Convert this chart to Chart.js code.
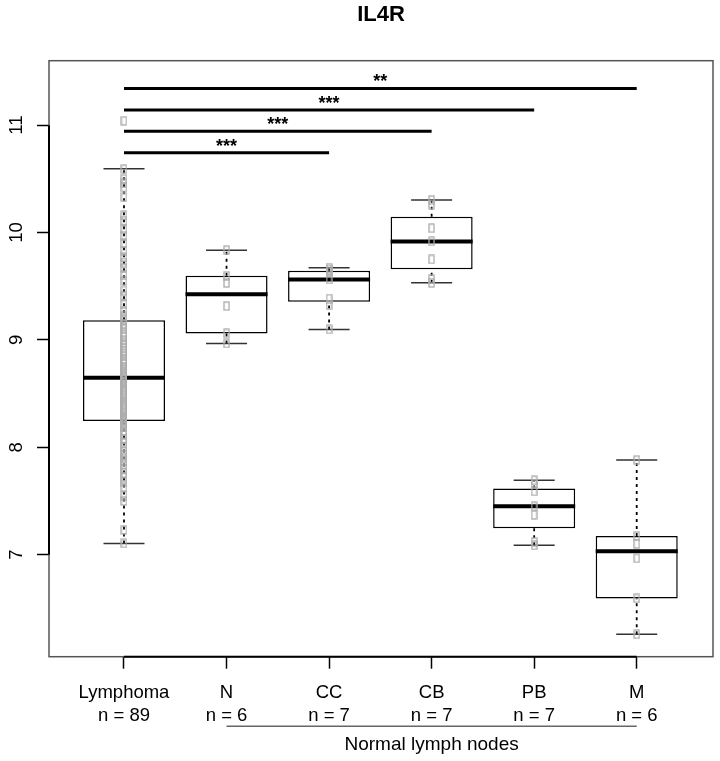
<!DOCTYPE html>
<html>
<head>
<meta charset="utf-8">
<title>IL4R</title>
<script src="https://cdn.jsdelivr.net/npm/chart.js@4/dist/chart.umd.min.js"></script>
<style>
  html, body { margin: 0; padding: 0; background: #fff; overflow: hidden; }
  canvas { display: block; }
</style>
</head>
<body>
<canvas id="boxChart" width="720" height="761"></canvas>
<script>
const FONT = "'Liberation Sans', Arial, sans-serif";

// data
const groups = ['Lymphoma', 'N', 'CC', 'CB', 'PB', 'M'];
const counts = [89, 6, 7, 7, 7, 6];
const boxLow  = [7.105, 8.967, 9.098, 9.532, 7.087, 6.258];
const boxQ1   = [8.244, 9.06, 9.355, 9.659, 7.245, 6.593];
const boxMed  = [8.647, 9.426, 9.563, 9.917, 7.45, 7.031];
const boxQ3   = [9.184, 9.597, 9.643, 10.146, 7.617, 7.173];
const boxHigh = [10.593, 9.836, 9.671, 10.302, 7.692, 7.881];

const lymphomaVals = [
  11.04, 10.59, 10.5, 10.46, 10.42, 10.33, 10.16, 10.11, 10.03, 9.97,
  9.9, 9.83, 9.77, 9.72, 9.67, 9.6, 9.55, 9.46, 9.41, 9.33, 9.27, 9.22,
  9.184,
  9.15, 9.12, 9.1, 9.06, 9.03, 9.0, 8.97, 8.95, 8.92, 8.9,
  8.87, 8.85, 8.82, 8.8, 8.78, 8.75, 8.73, 8.71, 8.69, 8.68, 8.66,
  8.647,
  8.63, 8.61, 8.6, 8.58, 8.56, 8.54, 8.52, 8.5, 8.48, 8.46,
  8.44, 8.42, 8.4, 8.38, 8.36, 8.34, 8.32, 8.3, 8.28, 8.27, 8.26,
  8.244,
  8.23, 8.21, 8.19, 8.15, 8.12, 8.08, 8.04, 8.0, 7.96, 7.93,
  7.9, 7.87, 7.84, 7.8, 7.76, 7.72, 7.68, 7.63, 7.55, 7.5, 7.23, 7.105
];
const nVals  = [9.836, 9.597, 9.53, 9.315, 9.06, 8.967];
const ccVals = [9.671, 9.655, 9.63, 9.563, 9.385, 9.325, 9.098];
const cbVals = [10.302, 10.26, 10.04, 9.917, 9.75, 9.57, 9.532];
const pbVals = [7.692, 7.66, 7.59, 7.45, 7.37, 7.12, 7.087];
const mVals  = [7.881, 7.173, 7.1, 6.966, 6.593, 6.258];
const points = [lymphomaVals, nVals, ccVals, cbVals, pbVals, mVals];

// significance bars: Lymphoma vs group number sigTo[i]
const sigTo = [3, 4, 5, 6];
const sigLevel = [10.742, 10.944, 11.14, 11.342];
const sigStars = ['***', '***', '***', '**'];

const yTicks = [7, 8, 9, 10, 11];
const groupNote = 'Normal lymph nodes';

const xPos = groups.map((g, i) => i + 1);

// line pieces separated by null gaps
function segments(list) {
  const out = [];
  list.forEach(s => {
    out.push({ x: s[0], y: s[1] }, { x: s[2], y: s[3] }, { x: s[2], y: null });
  });
  return out;
}

const boxData = xPos.map((x, i) => ({ x: x, y: [boxQ1[i], boxQ3[i]] }));
const medianData = segments(xPos.map((x, i) => [x - 0.4, boxMed[i], x + 0.4, boxMed[i]]));
const whiskerData = segments(xPos.flatMap((x, i) => [
  [x, boxQ3[i], x, boxHigh[i]], [x, boxLow[i], x, boxQ1[i]]
]));
const capData = segments(xPos.flatMap((x, i) => [
  [x - 0.2, boxHigh[i], x + 0.2, boxHigh[i]], [x - 0.2, boxLow[i], x + 0.2, boxLow[i]]
]));
const sigData = segments(sigTo.map((g, i) => [1, sigLevel[i], g, sigLevel[i]]));
const pointData = points.flatMap((vals, i) => vals.map(v => ({ x: xPos[i], y: v })));

// small open grey rectangle used as point marker
const marker = document.createElement('canvas');
marker.width = 7;
marker.height = 10;
(function () {
  const m = marker.getContext('2d');
  m.strokeStyle = '#ababab';
  m.lineWidth = 1.3;
  m.strokeRect(1, 1, 5, 8);
})();

const decorations = {
  id: 'decorations',
  beforeDatasetsDraw(chart) {
    const { ctx, chartArea: a, scales: { x, y } } = chart;
    ctx.save();
    ctx.strokeStyle = '#555';
    ctx.lineWidth = 1.5;
    ctx.strokeRect(a.left, a.top, a.right - a.left, a.bottom - a.top);
    // axis lines between first and last tick
    ctx.strokeStyle = '#000';
    ctx.lineWidth = 2;
    ctx.beginPath();
    ctx.moveTo(x.getPixelForValue(xPos[0]), a.bottom);
    ctx.lineTo(x.getPixelForValue(xPos[xPos.length - 1]), a.bottom);
    ctx.moveTo(a.left, y.getPixelForValue(yTicks[0]));
    ctx.lineTo(a.left, y.getPixelForValue(yTicks[yTicks.length - 1]));
    ctx.stroke();
    ctx.restore();
  },
  afterDraw(chart) {
    const { ctx, chartArea: a, scales: { x, y } } = chart;
    ctx.save();
    ctx.fillStyle = '#000';
    // rotated y tick labels
    ctx.font = '18.5px ' + FONT;
    ctx.textAlign = 'center';
    ctx.textBaseline = 'alphabetic';
    yTicks.forEach(v => {
      ctx.save();
      ctx.translate(a.left - 27, y.getPixelForValue(v));
      ctx.rotate(-Math.PI / 2);
      ctx.fillText(String(v), 0, 0);
      ctx.restore();
    });
    // stars
    ctx.font = 'bold 18px ' + FONT;
    sigTo.forEach((g, i) => {
      const px = (x.getPixelForValue(1) + x.getPixelForValue(g)) / 2;
      ctx.fillText(sigStars[i], px, y.getPixelForValue(sigLevel[i]) - 1);
    });
    // bracket under the normal lymph node groups
    const x0 = x.getPixelForValue(2), x1 = x.getPixelForValue(6);
    ctx.strokeStyle = '#666';
    ctx.lineWidth = 1.5;
    ctx.beginPath();
    ctx.moveTo(x0, a.bottom + 69.5);
    ctx.lineTo(x1, a.bottom + 69.5);
    ctx.stroke();
    ctx.font = '19px ' + FONT;
    ctx.fillText(groupNote, (x0 + x1) / 2, a.bottom + 93.5);
    ctx.restore();
  }
};

const ctx = document.getElementById('boxChart').getContext('2d');
new Chart(ctx, {
  type: 'bar',
  data: {
    datasets: [
      {
        type: 'line', data: sigData, order: 0,
        borderColor: '#000', borderWidth: 3, pointRadius: 0, spanGaps: false
      },
      {
        type: 'scatter', data: pointData, order: 1,
        pointStyle: marker, pointRadius: 4
      },
      {
        type: 'line', data: medianData, order: 2,
        borderColor: '#000', borderWidth: 4, pointRadius: 0, spanGaps: false
      },
      {
        type: 'bar', data: boxData, order: 3,
        backgroundColor: '#fff', borderColor: '#000', borderWidth: 1.5,
        borderSkipped: false, categoryPercentage: 1, barPercentage: 0.8
      },
      {
        type: 'line', data: capData, order: 4,
        borderColor: '#333', borderWidth: 1.5, pointRadius: 0, spanGaps: false
      },
      {
        type: 'line', data: whiskerData, order: 5,
        borderColor: '#000', borderWidth: 1.8, borderDash: [3, 4],
        pointRadius: 0, spanGaps: false
      }
    ]
  },
  options: {
    responsive: false,
    animation: false,
    layout: { padding: { left: 0, right: 7, top: 0, bottom: 0 } },
    plugins: {
      legend: { display: false },
      tooltip: { enabled: false },
      title: {
        display: true,
        text: 'IL4R',
        fullSize: false,
        color: '#000',
        font: { family: FONT, size: 22, weight: 'bold', lineHeight: 1.2 },
        padding: { top: 2, bottom: 32.3 }
      }
    },
    scales: {
      x: {
        type: 'linear',
        min: 0.2686,
        max: 6.744,
        offset: false,
        afterBuildTicks: s => { s.ticks = xPos.map(v => ({ value: v })); },
        afterFit: s => { s.height = 104.3; },
        border: { display: false },
        grid: {
          drawOnChartArea: false, offset: false,
          tickLength: 12, tickColor: '#000', tickWidth: 1.5
        },
        ticks: {
          autoSkip: false, maxRotation: 0, minRotation: 0,
          padding: 13.4, color: '#000',
          font: { family: FONT, size: 18.5, lineHeight: 1.21 },
          callback: v => [groups[v - 1], 'n = ' + counts[v - 1]]
        }
      },
      y: {
        type: 'linear',
        min: 6.05,
        max: 11.6,
        afterBuildTicks: s => { s.ticks = yTicks.map(v => ({ value: v })); },
        afterFit: s => { s.width = 49; },
        border: { display: false },
        grid: {
          drawOnChartArea: false,
          tickLength: 12, tickColor: '#000', tickWidth: 1.5
        },
        ticks: { display: false }
      }
    }
  },
  plugins: [decorations]
});
</script>
</body>
</html>
